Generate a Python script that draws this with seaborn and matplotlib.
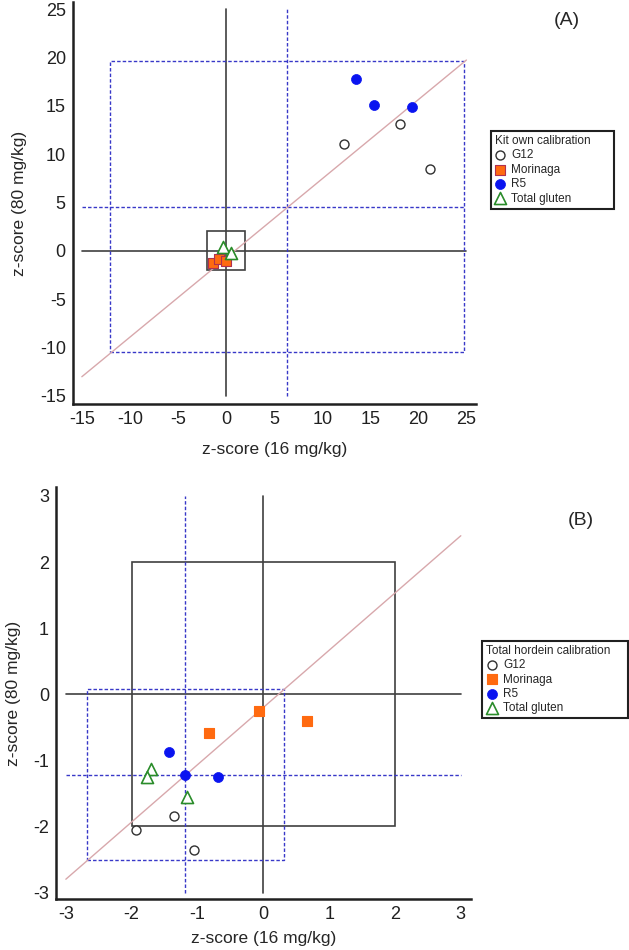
import numpy as np
import pandas as pd
import matplotlib
matplotlib.use('Agg')
import matplotlib.pyplot as plt
from matplotlib.patches import Rectangle
import seaborn as sns

# Panel A: kit own calibration
g12_a_x = [12.3, 18.1, 21.2]
g12_a_y = [11.1, 13.1, 8.5]
mor_a_x = [-1.4, -0.75, -0.05]
mor_a_y = [-1.25, -0.85, -1.05]
r5_a_x = [13.55, 15.35, 19.3]
r5_a_y = [17.75, 15.05, 14.85]
tg_a_x = [-0.3, 0.55]
tg_a_y = [0.4, -0.25]

# Panel B: total hordein calibration
g12_b_x = [-1.94, -1.35, -1.06]
g12_b_y = [-2.06, -1.84, -2.35]
mor_b_x = [-0.83, -0.06, 0.67]
mor_b_y = [-0.59, -0.25, -0.41]
r5_b_x = [-1.44, -1.19, -0.69]
r5_b_y = [-0.87, -1.22, -1.25]
tg_b_x = [-1.70, -1.77, -1.16]
tg_b_y = [-1.13, -1.25, -1.55]

kits = ['G12', 'Morinaga', 'R5', 'Total gluten']

# reference lines: mean lines, spread box, +-2 box, fitted diagonal
ref_a = dict(mx=6.31, my=4.55, box_x=(-12.06, 24.77), box_y=(-10.44, 19.65),
             lim=(-15, 25), h_end=24.77, slope=0.819, icpt=-0.74)
ref_b = dict(mx=-1.19, my=-1.22, box_x=(-2.68, 0.31), box_y=(-2.51, 0.075),
             lim=(-3, 3), h_end=3, slope=0.866, icpt=-0.20)

df_a = pd.DataFrame({'x': g12_a_x + mor_a_x + r5_a_x + tg_a_x,
                     'y': g12_a_y + mor_a_y + r5_a_y + tg_a_y,
                     'kit': ['G12'] * 3 + ['Morinaga'] * 3 + ['R5'] * 3 + ['Total gluten'] * 2})
df_b = pd.DataFrame({'x': g12_b_x + mor_b_x + r5_b_x + tg_b_x,
                     'y': g12_b_y + mor_b_y + r5_b_y + tg_b_y,
                     'kit': ['G12'] * 3 + ['Morinaga'] * 3 + ['R5'] * 3 + ['Total gluten'] * 3})

sns.set_style('white')
plt.rcParams['font.family'] = ['Liberation Sans', 'DejaVu Sans']
plt.rcParams['axes.unicode_minus'] = False

blue = '#3838c8'
dash = (0, (2.5, 1.5))


def draw_panel(ax, df, ref, mor_edge, xpad):
    lo, hi = ref['lim']
    # solid zero lines and +-2 box
    ax.plot([lo, hi], [0, 0], color='#404040', lw=1.2, zorder=1)
    ax.plot([0, 0], [lo, hi], color='#404040', lw=1.2, zorder=1)
    ax.add_patch(Rectangle((-2, -2), 4, 4, fill=False, ec='#404040', lw=1.2, zorder=1))
    # dashed mean lines and spread box
    ax.plot([lo, ref['h_end']], [ref['my'], ref['my']], color=blue, lw=1, ls=dash, zorder=1)
    ax.plot([ref['mx'], ref['mx']], [lo, hi], color=blue, lw=1, ls=dash, zorder=1)
    bx, by = ref['box_x'], ref['box_y']
    ax.add_patch(Rectangle((bx[0], by[0]), bx[1] - bx[0], by[1] - by[0], fill=False,
                           ec=blue, lw=1, ls=dash, zorder=1))
    # diagonal
    xs = np.array([lo, hi])
    ax.plot(xs, ref['slope'] * xs + ref['icpt'], color='#d8a8ac', lw=1, zorder=1)

    styles = {
        'G12': dict(marker='o', s=42, facecolor='white', edgecolor='#303030', linewidth=1.0),
        'Morinaga': dict(marker='s', s=48, color='#ff6a10', edgecolor=mor_edge, linewidth=0.8),
        'R5': dict(marker='o', s=52, color='#0a14f0', edgecolor='#0a14f0', linewidth=0.5),
        'Total gluten': dict(marker='^', s=75, facecolor='white', edgecolor='#2a8c2a', linewidth=1.2),
    }
    for kit in kits:
        sub = df[df['kit'] == kit]
        sns.scatterplot(data=sub, x='x', y='y', ax=ax, label=kit, zorder=3, **styles[kit])

    for side in ['top', 'right']:
        ax.spines[side].set_visible(False)
    for side in ['left', 'bottom']:
        ax.spines[side].set_linewidth(1.8)
        ax.spines[side].set_color('#202020')
    ax.tick_params(direction='in', length=4.5, width=1.5, labelsize=13, colors='#202020', pad=5)
    ax.set_xlabel('z-score (16 mg/kg)', fontsize=12.5, labelpad=xpad)
    ax.set_ylabel('z-score (80 mg/kg)', fontsize=12.5, labelpad=9)


fig = plt.figure(figsize=(6.29, 9.5), dpi=100)
ax_a = fig.add_axes([0.1156, 0.5747, 0.6412, 0.4233])
ax_b = fig.add_axes([0.089, 0.0535, 0.6593, 0.4335])

draw_panel(ax_a, df_a, ref_a, '#b03050', 10)
ax_a.set_xlim(-15.95, 26)
ax_a.set_ylim(-15.85, 25.75)
ax_a.set_xticks(range(-15, 30, 5))
ax_a.set_yticks(range(-15, 30, 5))

draw_panel(ax_b, df_b, ref_b, '#ff6a10', 6)
ax_b.set_xlim(-3.15, 3.15)
ax_b.set_ylim(-3.1, 3.13)
ax_b.set_xticks(range(-3, 4))
ax_b.set_yticks(range(-3, 4))

# trailing spaces give the wide right margin of the original legend boxes
for ax, title, anchor in [(ax_a, 'Kit own calibration      ', (0.7801, 0.8621)),
                          (ax_b, 'Total hordein calibration    ', (0.7668, 0.3256))]:
    leg = ax.legend(title=title, loc='upper left', bbox_to_anchor=anchor,
                    bbox_transform=fig.transFigure, fontsize=8.5, title_fontsize=8.5,
                    frameon=True, fancybox=False, edgecolor='#202020', framealpha=1,
                    handlelength=0.9, handletextpad=0.5, labelspacing=0.2,
                    borderpad=0.35, borderaxespad=0, alignment='left')
    leg.get_frame().set_linewidth(1.5)

fig.text(0.9014, 0.978, '(A)', fontsize=14, ha='center', va='center')
fig.text(0.9237, 0.4526, '(B)', fontsize=14, ha='center', va='center')

fig.savefig('out.png', dpi=100)
